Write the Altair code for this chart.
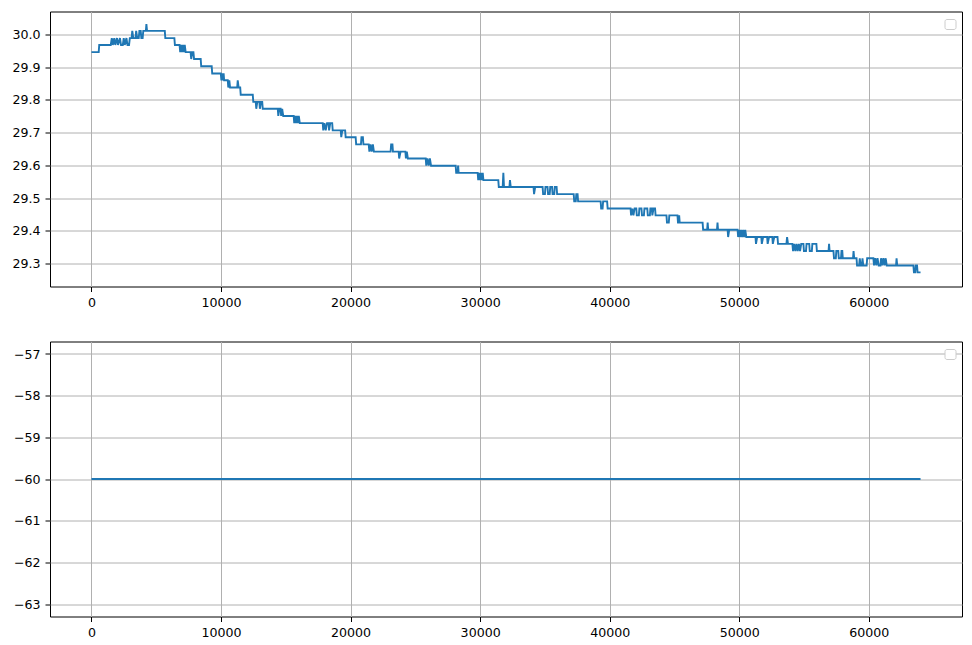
import altair as alt
import pandas as pd

# ---- top panel: stepped temperature-like series ----
time_x = [
    0, 560, 600, 1490, 1570, 1650, 1760, 1840, 1970, 2050, 2200, 2280, 2420, 2490, 2570, 2700, 2780, 2900, 2960,
    3100, 3150, 3230, 3400, 3450, 3530, 3650, 3700, 3800, 3850, 3950, 4000, 4200, 4240, 4290, 5660, 5700, 6400,
    6440, 6800, 6850, 6920, 6990, 7060, 7130, 7200, 7270, 7650, 7700, 7780, 7870, 7920, 8430, 8470, 9280, 9320,
    9980, 10030, 10090, 10150, 10200, 10240, 10520, 10560, 10640, 10700, 11250, 11290, 11360, 11480, 11520,
    12450, 12490, 12680, 12720, 12800, 12960, 13000, 13080, 13180, 13220, 14380, 14420, 14500, 14600, 14640,
    14720, 14800, 15610, 15650, 15720, 15800, 15860, 15940, 16000, 16080, 17850, 17890, 17980, 18080, 18180,
    18300, 18340, 18430, 18580, 18620, 19240, 19280, 19360, 19580, 19620, 20390, 20430, 20800, 20840, 20950,
    20990, 21400, 21450, 21540, 21630, 21720, 21800, 23090, 23130, 23230, 23270, 23710, 23750, 23860, 24230,
    24270, 24340, 24420, 25800, 25840, 25930, 26030, 26120, 26210, 28110, 28150, 28260, 28300, 28340, 29810,
    29850, 29900, 29950, 30000, 30050, 30100, 30150, 30200, 30250, 31400, 31440, 31740, 31790, 31840, 32260,
    32300, 32360, 34120, 34160, 34250, 34820, 34860, 35000, 35040, 35200, 35240, 35370, 35410, 35550, 35590,
    35720, 35760, 35900, 35940, 37220, 37260, 37380, 37420, 37520, 37560, 39300, 39340, 39450, 39490, 39800,
    39840, 41610, 41650, 41740, 41830, 41920, 42050, 42090, 42250, 42290, 42450, 42490, 42640, 42680, 42900,
    42940, 43100, 43140, 43250, 43290, 43380, 43500, 43540, 44380, 44420, 44560, 44600, 45230, 45270, 45320,
    45360, 45400, 47170, 47210, 47520, 47560, 47600, 48280, 48320, 48360, 49100, 49140, 49220, 49870, 49910,
    49990, 50060, 50140, 50220, 50300, 50380, 50460, 50540, 51250, 51290, 51380, 51700, 51740, 51840, 52150,
    52190, 52300, 52550, 52590, 52700, 52950, 52990, 53640, 53690, 53760, 54100, 54150, 54240, 54330, 54420,
    54510, 54600, 54690, 54780, 54950, 54990, 55150, 55190, 55400, 55440, 55600, 55640, 55950, 55990, 56890,
    56930, 56970, 57270, 57310, 57450, 57490, 57640, 57680, 57850, 57890, 57950, 57990, 58780, 58820, 58870,
    59050, 59090, 59250, 59300, 59360, 59460, 59510, 59570, 59830, 59870, 60350, 60400, 60490, 60580, 60670,
    60760, 60900, 60940, 61030, 61120, 61210, 61300, 61380, 62100, 62140, 62190, 63440, 63480, 63580, 63620,
    63720, 63760, 63990,
]
temp_y = [
    29.946, 29.946, 29.968, 29.968, 29.989, 29.968, 29.989, 29.968, 29.989, 29.968, 29.989, 29.968, 29.968, 29.989, 29.968, 29.989, 29.968, 29.968, 29.989,
    29.989, 30.011, 29.989, 29.989, 30.011, 29.989, 29.989, 30.011, 30.011, 29.989, 29.989, 30.011, 30.011, 30.032, 30.011, 30.011, 29.989, 29.989,
    29.968, 29.968, 29.946, 29.968, 29.946, 29.968, 29.946, 29.968, 29.946, 29.946, 29.925, 29.946, 29.946, 29.925, 29.925, 29.903, 29.903, 29.881,
    29.881, 29.860, 29.881, 29.860, 29.881, 29.860, 29.860, 29.838, 29.860, 29.838, 29.838, 29.860, 29.838, 29.838, 29.816,
    29.816, 29.794, 29.794, 29.773, 29.794, 29.794, 29.773, 29.794, 29.794, 29.773, 29.773, 29.751, 29.773, 29.773, 29.751,
    29.773, 29.751, 29.751, 29.729, 29.751, 29.729, 29.751, 29.729, 29.751, 29.729, 29.729, 29.707, 29.729, 29.707, 29.729,
    29.729, 29.707, 29.729, 29.729, 29.707, 29.707, 29.686, 29.707, 29.707, 29.686, 29.686, 29.664, 29.664, 29.686, 29.686,
    29.664, 29.664, 29.642, 29.664, 29.642, 29.664, 29.642, 29.642, 29.664, 29.664, 29.642, 29.642, 29.621, 29.642, 29.642,
    29.621, 29.642, 29.621, 29.621, 29.599, 29.621, 29.599, 29.621, 29.599, 29.599, 29.577, 29.577, 29.599, 29.577, 29.577,
    29.555, 29.577, 29.555, 29.577, 29.555, 29.577, 29.555, 29.577, 29.555, 29.555, 29.534, 29.534, 29.577, 29.534, 29.534,
    29.555, 29.534, 29.534, 29.512, 29.534, 29.534, 29.512, 29.512, 29.534, 29.534, 29.512, 29.512, 29.534, 29.534, 29.512,
    29.512, 29.534, 29.534, 29.512, 29.512, 29.490, 29.490, 29.512, 29.512, 29.490, 29.490, 29.468, 29.468, 29.490, 29.490,
    29.468, 29.468, 29.447, 29.468, 29.447, 29.468, 29.468, 29.447, 29.447, 29.468, 29.468, 29.447, 29.447, 29.468, 29.468,
    29.447, 29.447, 29.468, 29.468, 29.447, 29.468, 29.468, 29.447, 29.447, 29.425, 29.425, 29.447, 29.447, 29.425, 29.425,
    29.447, 29.425, 29.425, 29.403, 29.403, 29.425, 29.403, 29.403, 29.425, 29.403, 29.403, 29.381, 29.403, 29.403, 29.381,
    29.403, 29.381, 29.403, 29.381, 29.403, 29.381, 29.403, 29.381, 29.381, 29.360, 29.381, 29.381, 29.360, 29.381, 29.381,
    29.360, 29.381, 29.381, 29.360, 29.381, 29.381, 29.360, 29.360, 29.381, 29.360, 29.360, 29.338, 29.360, 29.338, 29.360,
    29.338, 29.360, 29.338, 29.360, 29.360, 29.338, 29.338, 29.360, 29.360, 29.338, 29.338, 29.360, 29.360, 29.338, 29.338,
    29.360, 29.338, 29.338, 29.316, 29.316, 29.338, 29.338, 29.316, 29.316, 29.338, 29.338, 29.316, 29.316, 29.338, 29.316,
    29.316, 29.294, 29.294, 29.316, 29.294, 29.294, 29.316, 29.294, 29.294, 29.316, 29.316, 29.294, 29.316, 29.294, 29.316,
    29.294, 29.294, 29.316, 29.294, 29.316, 29.294, 29.316, 29.294, 29.294, 29.316, 29.294, 29.294, 29.273, 29.273, 29.294,
    29.294, 29.273, 29.273,
]

# ---- bottom panel: flat series ----
rssi_x = [0, 63990]
rssi_y = [-60, -60]

x_ticks = [0, 10000, 20000, 30000, 40000, 50000, 60000]
top_ticks = [29.3, 29.4, 29.5, 29.6, 29.7, 29.8, 29.9, 30.0]
bottom_ticks = [-63, -62, -61, -60, -59, -58, -57]

BLUE = "#1f77b4"
FONT = "DejaVu Sans"
W, H = 912, 275
X_DOMAIN = [-3200, 67190]

top_df = pd.DataFrame({"x": time_x, "y": temp_y, "i": list(range(len(time_x)))})
bot_df = pd.DataFrame({"x": rssi_x, "y": rssi_y, "i": list(range(len(rssi_x)))})


def panel(df, y_domain, y_ticks, y_fmt):
    line = alt.Chart(df).mark_line(color=BLUE, strokeWidth=1.9, clip=True).encode(
        x=alt.X("x:Q", scale=alt.Scale(domain=X_DOMAIN, nice=False, zero=False),
                axis=alt.Axis(values=x_ticks, format="d", title=None, minExtent=25)),
        y=alt.Y("y:Q", scale=alt.Scale(domain=y_domain, nice=False, zero=False),
                axis=alt.Axis(values=y_ticks, format=y_fmt, title=None, minExtent=38)),
        order="i:Q",
    )
    legend_box = alt.Chart(pd.DataFrame({"k": [0]})).mark_rect(
        cornerRadius=2, fill="white", stroke="#cccccc", strokeWidth=1
    ).encode(x=alt.value(895), x2=alt.value(906), y=alt.value(8), y2=alt.value(18))
    return alt.layer(line, legend_box).properties(width=W, height=H)


top = panel(top_df, [29.2297, 30.0703], top_ticks, ".1f")
bottom = panel(bot_df, [-63.3, -56.7], bottom_ticks, "d")

chart = (
    alt.vconcat(top, bottom, spacing=28)
    .properties(padding={"left": 3, "top": 2.5, "right": 0, "bottom": 0}, background="white")
    .configure_view(stroke="black", strokeWidth=1)
    .configure_axis(
        domain=False, grid=True, gridColor="#b0b0b0", gridWidth=1,
        tickColor="black", tickSize=5, tickWidth=1, labelPadding=5,
        labelFont=FONT, labelFontSize=12.6, labelColor="black",
    )
)

chart.save("out.html", embed_options={"renderer": "svg", "actions": False})
